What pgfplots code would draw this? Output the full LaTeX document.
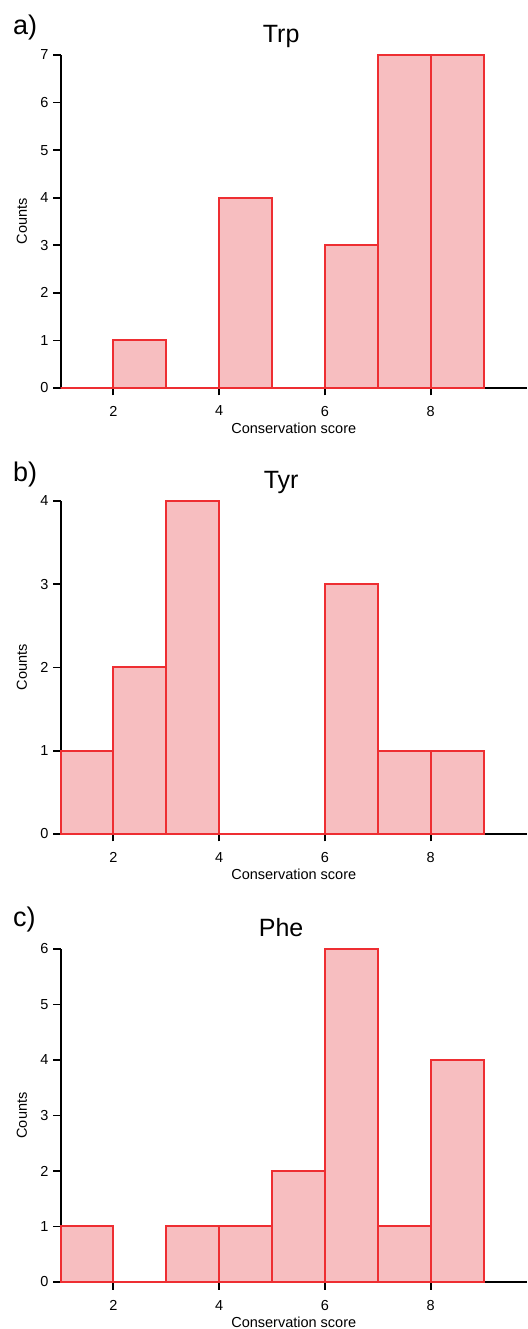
\documentclass[border=0pt]{standalone}
\usepackage{pgfplots}
\pgfplotsset{compat=1.18}
\usepackage{fontspec}
\setmainfont{Liberation Sans}

\definecolor{barfill}{RGB}{247,190,192}
\definecolor{baredge}{RGB}{238,46,50}

% Histogram counts per conservation-score bin; the last row closes the final interval
\pgfplotstableread{
x  c
1  0
2  1
3  0
4  4
5  0
6  3
7  7
8  7
9  7
}\trp
\pgfplotstableread{
x  c
1  1
2  2
3  4
4  0
5  0
6  3
7  1
8  1
9  1
}\tyr
\pgfplotstableread{
x  c
1  1
2  0
3  1
4  1
5  2
6  6
7  1
8  4
9  4
}\phe

\pgfplotsset{
  histo/.style={
    scale only axis, width=466.5pt, height=333pt,
    anchor=south west,
    axis x line=bottom, axis y line=left,
    axis line style={-, line width=2pt, black},
    xmin=1, xmax=9.82, ymin=0,
    xtick={2,4,6,8}, x tick label as interval=false,
    tick align=outside, major tick length=7.5pt,
    every tick/.style={black, line width=1.8pt},
    tick label style={font=\fontsize{14.5}{16}\selectfont},
    xticklabel style={yshift=-7pt},
    yticklabel style={xshift=-1pt},
    /pgf/number format/assume math mode=true,
    every axis x label/.style={at={(axis description cs:0.5,0)}, yshift=-40pt, anchor=center},
    every axis y label/.style={at={(axis description cs:0,0.5)}, xshift=-38.5pt, rotate=90, anchor=center},
    label style={font=\fontsize{14.5}{16}\selectfont},
    xlabel={Conservation score}, ylabel={Counts},
    title style={at={(axis description cs:0.473,1)}, anchor=base, yshift=6pt, font=\fontsize{25}{28}\selectfont},
    clip=false,
  },
  bars/.style={ybar interval, fill=barfill, draw=baredge, line width=2pt},
}

\begin{document}
\begin{tikzpicture}
\path[use as bounding box] (0,0) rectangle (527pt,1329pt);

\begin{axis}[histo, at={(60.5pt,941pt)}, ymax=7, ytick={0,...,7}, title={Trp}]
  \addplot[bars] table[x=x, y=c] {\trp};
\end{axis}

\begin{axis}[histo, at={(60.5pt,495pt)}, ymax=4, ytick={0,...,4}, title={Tyr}]
  \addplot[bars] table[x=x, y=c] {\tyr};
\end{axis}

\begin{axis}[histo, at={(60.5pt,47pt)}, ymax=6, ytick={0,...,6}, title={Phe}]
  \addplot[bars] table[x=x, y=c] {\phe};
\end{axis}

\node[anchor=base west, font=\fontsize{27}{30}\selectfont, inner sep=0pt] at (13pt,1294pt) {a)};
\node[anchor=base west, font=\fontsize{27}{30}\selectfont, inner sep=0pt] at (13pt,847pt) {b)};
\node[anchor=base west, font=\fontsize{27}{30}\selectfont, inner sep=0pt] at (13pt,402pt) {c)};
\end{tikzpicture}
\end{document}
